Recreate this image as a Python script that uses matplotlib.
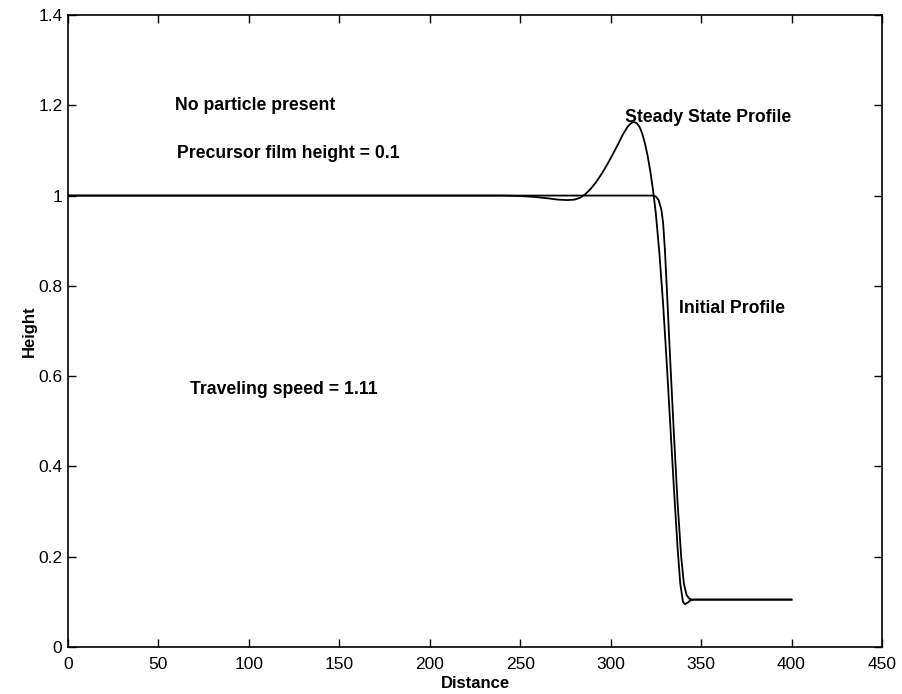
import numpy as np
import matplotlib.pyplot as plt

plt.rcParams['font.family'] = ['Liberation Sans', 'DejaVu Sans']

# 稳态剖面
steady_x = [0, 240, 250, 258, 265, 271, 276, 280, 283, 286, 289, 292, 295, 298,
            301, 304, 307, 309.5, 311.5, 313, 314.5, 316, 317.5, 319, 320.5,
            322, 323.5, 325, 327, 329, 331, 333, 335, 337, 338.5, 340, 341,
            342.5, 344, 346, 400]
steady_y = [1.0, 1.0, 0.999, 0.997, 0.994, 0.991, 0.99, 0.991, 0.995, 1.003,
            1.015, 1.03, 1.048, 1.068, 1.09, 1.113, 1.137, 1.153, 1.161, 1.163,
            1.16, 1.152, 1.137, 1.115, 1.087, 1.052, 1.01, 0.96, 0.87, 0.76,
            0.63, 0.49, 0.35, 0.22, 0.14, 0.10, 0.095, 0.098, 0.103, 0.105,
            0.105]

# 初始剖面
init_x = [0, 323, 325, 326.5, 328, 329, 330, 331, 333, 335, 337, 339, 340.5,
          342, 343.5, 345, 400]
init_y = [1.0, 1.0, 0.998, 0.99, 0.97, 0.94, 0.88, 0.80, 0.63, 0.47, 0.32,
          0.20, 0.14, 0.115, 0.107, 0.105, 0.105]

x_ticks = [0, 50, 100, 150, 200, 250, 300, 350, 400, 450]
y_ticks = [0, 0.2, 0.4, 0.6, 0.8, 1.0, 1.2, 1.4]
y_ticklabels = ['0', '0.2', '0.4', '0.6', '0.8', '1', '1.2', '1.4']

fig = plt.figure(figsize=(9.03, 6.94), dpi=100)
ax = fig.add_axes([0.0753, 0.0677, 0.9014, 0.9107])

ax.plot(steady_x, steady_y, color='black', linewidth=1.3)
ax.plot(init_x, init_y, color='black', linewidth=1.3)

ax.set_xlim(0, 450)
ax.set_ylim(0, 1.4)
ax.set_xticks(x_ticks)
ax.set_yticks(y_ticks)
ax.set_yticklabels(y_ticklabels)
ax.tick_params(direction='in', length=6, width=1, top=True, right=True,
               labelsize=12.5, pad=4)
ax.tick_params(axis='x', pad=7)
for s in ax.spines.values():
    s.set_linewidth(1.2)

ax.set_xlabel('Distance', fontsize=12, fontweight='bold', labelpad=3)
ax.set_ylabel('Height', fontsize=12, fontweight='bold', labelpad=1)

tkw = dict(fontsize=12.7, fontweight='bold', va='center', ha='left')
ax.text(59, 1.2, 'No particle present', **tkw)
ax.text(60, 1.093, 'Precursor film height = 0.1', **tkw)
ax.text(67.5, 0.571, 'Traveling speed = 1.11', **tkw)
ax.text(338, 0.749, 'Initial Profile', **tkw)
ax.text(308, 1.173, 'Steady State Profile', **tkw)

fig.savefig('out.png', dpi=100)
